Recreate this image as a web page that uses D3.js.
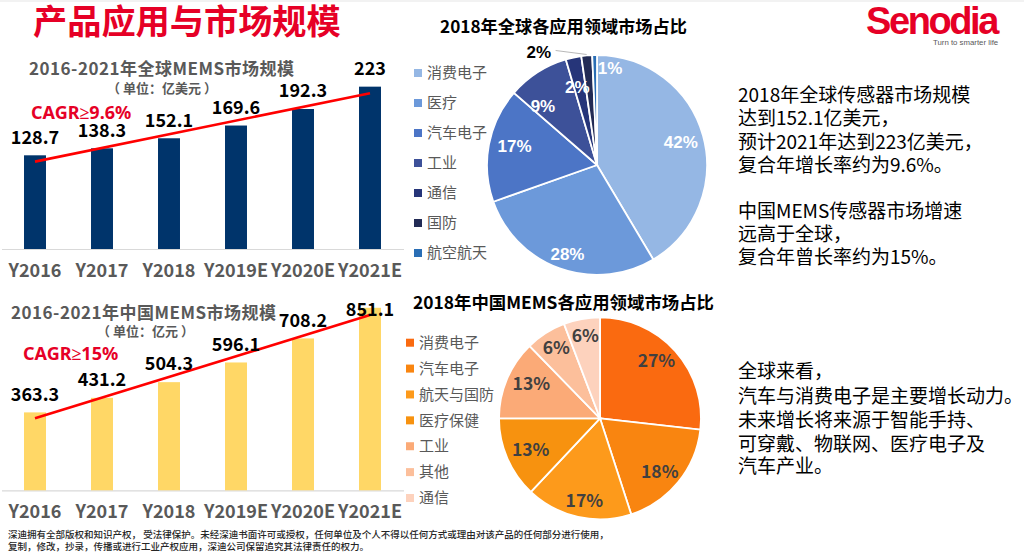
<!DOCTYPE html>
<html>
<head>
<meta charset="utf-8">
<script src="https://cdn.jsdelivr.net/npm/d3@7"></script>
<style>
body { margin: 0; background: #fff; }
text { font-family: "Noto Sans CJK SC", "Noto Sans", sans-serif; }
</style>
</head>
<body>
<svg id="page" width="1024" height="555"></svg>
<script>
var years = ['Y2016', 'Y2017', 'Y2018', 'Y2019E', 'Y2020E', 'Y2021E'];
var globalMarket = [128.7, 138.3, 152.1, 169.6, 192.3, 223];
var chinaMarket = [363.3, 431.2, 504.3, 596.1, 708.2, 851.1];
// red trend lines, read at first and last bar
var globalTrend = [120, 214];
var chinaTrend = [336, 817];

var globalApps = ['消费电子', '医疗', '汽车电子', '工业', '通信', '国防', '航空航天'];
var globalShares = [41.7, 28.3, 16.9, 9.1, 2.3, 1.6, 0.7];
var globalShareLabels = ['42%', '28%', '17%', '9%', '2%', '2%', '1%'];
var globalColors = ['#95b7e4', '#6c99da', '#4c75c6', '#3d5199', '#263579', '#222b55', '#2a6eb5'];

var chinaApps = ['消费电子', '汽车电子', '航天与国防', '医疗保健', '工业', '其他', '通信'];
var chinaShares = [26.8, 18.2, 17, 13, 12.7, 6.5, 5.8];
var chinaShareLabels = ['27%', '18%', '17%', '13%', '13%', '6%', '6%'];
var chinaColors = ['#fa6a10', '#f98510', '#fd9a1b', '#f7920f', '#fbaa77', '#fcbf9b', '#fdd2bd'];

var notesTop = ['2018年全球传感器市场规模', '达到152.1亿美元，', '预计2021年达到223亿美元，', '复合年增长率约为9.6%。'];
var notesMiddle = ['中国MEMS传感器市场增速', '远高于全球，', '复合年曾长率约为15%。'];
var notesBottom = ['全球来看，', '汽车与消费电子是主要增长动力。', '未来增长将来源于智能手持、', '可穿戴、物联网、医疗电子及', '汽车产业。'];
var footer = ['深迪拥有全部版权和知识产权，  受法律保护。未经深迪书面许可或授权，任何单位及个人不得以任何方式或理由对该产品的任何部分进行使用，',
    '复制，修改，抄录，传播或进行工业产权应用，深迪公司保留追究其法律责任的权力。'];

var svg = d3.select('#page');

var addText = function(x, y, str, size, color, weight, anchor) {
    return svg.append('text')
        .attr('x', x)
        .attr('y', y)
        .attr('dy', '0.35em')
        .attr('font-size', size)
        .attr('font-weight', weight || 400)
        .attr('fill', color)
        .attr('text-anchor', anchor || 'start')
        .text(str);
};

var buildBars = function(cfg) {
    var x = d3.scaleBand().domain(years).range([1.5, 403.5]).paddingInner(0.672).paddingOuter(0.336);
    var y = d3.scaleLinear().domain([0, cfg.max]).range([cfg.baseline, cfg.baseline - cfg.plotHeight]);

    var axis = svg.append('g')
        .attr('transform', 'translate(0,' + cfg.baseline + ')')
        .call(d3.axisBottom(x).tickSize(0).tickPadding(15));
    axis.select('.domain').attr('stroke', '#d9d9d9').attr('stroke-width', 1.2);
    axis.selectAll('text')
        .attr('font-size', 18)
        .attr('font-weight', 700)
        .attr('fill', '#595959')
        .style('font-family', '"Noto Sans CJK SC"');

    svg.selectAll(null)
        .data(cfg.values)
        .enter().append('rect')
        .attr('fill', cfg.color)
        .attr('x', function(d, i) { return x(years[i]); })
        .attr('width', x.bandwidth())
        .attr('y', function(d) { return y(d); })
        .attr('height', function(d) { return cfg.baseline - y(d); });

    var line = d3.line()
        .x(function(d, i) { return x(years[i * (years.length - 1)]) + x.bandwidth() / 2; })
        .y(function(d) { return y(d); });
    svg.append('path')
        .attr('d', line(cfg.trend))
        .attr('fill', 'none')
        .attr('stroke', '#ff0000')
        .attr('stroke-width', 2.6);

    svg.selectAll(null)
        .data(cfg.values)
        .enter().append('text')
        .attr('x', function(d, i) { return x(years[i]) + x.bandwidth() / 2; })
        .attr('y', function(d) { return Math.max(y(d) - 18, cfg.labelTop); })
        .attr('dy', '0.35em')
        .attr('text-anchor', 'middle')
        .attr('font-size', 18)
        .attr('font-weight', 700)
        .attr('fill', '#000')
        .text(function(d) { return d; });
};

var buildPie = function(cfg) {
    var pie = d3.pie().sort(null);
    var slices = pie(cfg.shares);
    var arc = d3.arc().innerRadius(0).outerRadius(cfg.r);
    var labelArc = d3.arc().innerRadius(cfg.labelR).outerRadius(cfg.labelR);
    var g = svg.append('g').attr('transform', 'translate(' + cfg.cx + ',' + cfg.cy + ')');

    g.selectAll('path')
        .data(slices)
        .enter().append('path')
        .attr('d', arc)
        .attr('fill', function(d, i) { return cfg.colors[i]; })
        .attr('stroke', '#fff')
        .attr('stroke-width', 1.8);

    if (cfg.leader !== undefined) {
        var edge = d3.arc().innerRadius(cfg.r + 1).outerRadius(cfg.r + 1).centroid(slices[cfg.leader]);
        g.append('line')
            .attr('x1', edge[0]).attr('y1', edge[1])
            .attr('x2', edge[0] - 31).attr('y2', edge[1] - 4)
            .attr('stroke', '#a6a6a6')
            .attr('stroke-width', 0.8);
    }

    g.selectAll('text')
        .data(slices)
        .enter().append('text')
        .attr('transform', function(d, i) {
            var c = labelArc.centroid(d);
            var n = cfg.nudge[i] || [0, 0];
            return 'translate(' + (c[0] + n[0]) + ',' + (c[1] + n[1]) + ')';
        })
        .attr('dy', '0.35em')
        .attr('text-anchor', 'middle')
        .attr('font-size', cfg.labelSize)
        .attr('font-weight', 700)
        .attr('fill', function(d, i) { return cfg.labelColor(i); })
        .style('font-family', cfg.labelFont)
        .text(function(d, i) { return cfg.labels[i]; });

    var legendY = d3.scalePoint().domain(cfg.apps).range(cfg.legendRange);
    svg.selectAll(null)
        .data(cfg.apps)
        .enter().append('rect')
        .attr('x', cfg.legendX)
        .attr('y', function(d) { return legendY(d) - 4; })
        .attr('width', 8)
        .attr('height', 8)
        .attr('fill', function(d, i) { return cfg.colors[i]; });
    svg.selectAll(null)
        .data(cfg.apps)
        .enter().append('text')
        .attr('x', cfg.legendX + 13)
        .attr('y', function(d) { return legendY(d); })
        .attr('dy', '0.35em')
        .attr('font-size', 15)
        .attr('fill', '#595959')
        .text(function(d) { return d; });
};

var addLines = function(lines, x, ys, size, color, weight) {
    lines.forEach(function(d, i) {
        addText(x, ys[i], d, size, color || '#000', weight);
    });
};

// page furniture
svg.append('rect').attr('width', 1024).attr('height', 2).attr('fill', '#f2f2f2');
addText(33, 22, '产品应用与市场规模', 34.2, '#e60026', 700);
svg.append('text')
    .attr('x', 866).attr('y', 34)
    .attr('font-size', 38)
    .attr('font-weight', 700)
    .attr('letter-spacing', -2.4)
    .attr('fill', '#e60026')
    .style('font-family', '"Liberation Sans"')
    .text('Senodia');
svg.append('text')
    .attr('x', 933).attr('y', 45)
    .attr('font-size', 7.8)
    .attr('fill', '#595959')
    .style('font-family', '"Liberation Sans"')
    .text('Turn to smarter life');

// left column
addText(29, 69.5, '2016-2021年全球MEMS市场规模', 17, '#595959', 700).attr('letter-spacing', 0.5);
addText(107, 88, '（ 单位：亿美元 ）', 13, '#595959', 700).style('white-space', 'pre');
addText(31, 113, 'CAGR≥9.6%', 18, '#e60026', 700).style('font-family', '"Noto Sans"');
buildBars({values: globalMarket, trend: globalTrend, color: '#00346b', baseline: 249, plotHeight: 182, max: 250, labelTop: 0});

addText(11, 313.5, '2016-2021年中国MEMS市场规模', 17, '#595959', 700).attr('letter-spacing', 0.5);
addText(97, 331, '（ 单位：亿元 ）', 13, '#595959', 700).style('white-space', 'pre');
addText(23, 354, 'CAGR≥15%', 18, '#e60026', 700).style('font-family', '"Noto Sans"');
buildBars({values: chinaMarket, trend: chinaTrend, color: '#ffd766', baseline: 490.3, plotHeight: 193, max: 900, labelTop: 310});

// pies
addText(440, 27, '2018年全球各应用领域市场占比', 17.2, '#000', 700);
buildPie({
    shares: globalShares, labels: globalShareLabels, colors: globalColors, apps: globalApps,
    cx: 597, cy: 165, r: 110, labelR: 87, labelSize: 17, labelFont: '"Liberation Sans"',
    labelColor: function(i) { return i === 5 ? '#000' : '#fff'; },
    nudge: {1: [0, 7], 2: [3, -3], 3: [-7, 14], 4: [-1, 7], 5: [-50, -26], 6: [15, -10]},
    leader: 5,
    legendX: 414, legendRange: [73, 253]
});

addText(413, 303, '2018年中国MEMS各应用领域市场占比', 17.4, '#000', 700);
buildPie({
    shares: chinaShares, labels: chinaShareLabels, colors: chinaColors, apps: chinaApps,
    cx: 600, cy: 418.3, r: 101, labelR: 81, labelSize: 17.5, labelFont: '"Noto Sans CJK SC"',
    labelColor: function() { return '#404040'; },
    nudge: {0: [-4, -3], 1: [-3, 2], 2: [2, 4], 3: [5, -1], 4: [6, -3], 5: [0, -2], 6: [0, -3]},
    legendX: 406, legendRange: [342.7, 498]
});

// right column notes
addLines(notesTop, 738, [95.5, 118.5, 142.5, 165.5], 19);
addLines(notesMiddle, 738, [211.5, 234.5, 257.5], 19);
addLines(notesBottom, 738, [371.5, 396.5, 420.5, 444.5, 466.5], 19);

// footer
addLines(footer, 8, [535, 547], 9.5, '#262626', 500);
</script>
</body>
</html>
